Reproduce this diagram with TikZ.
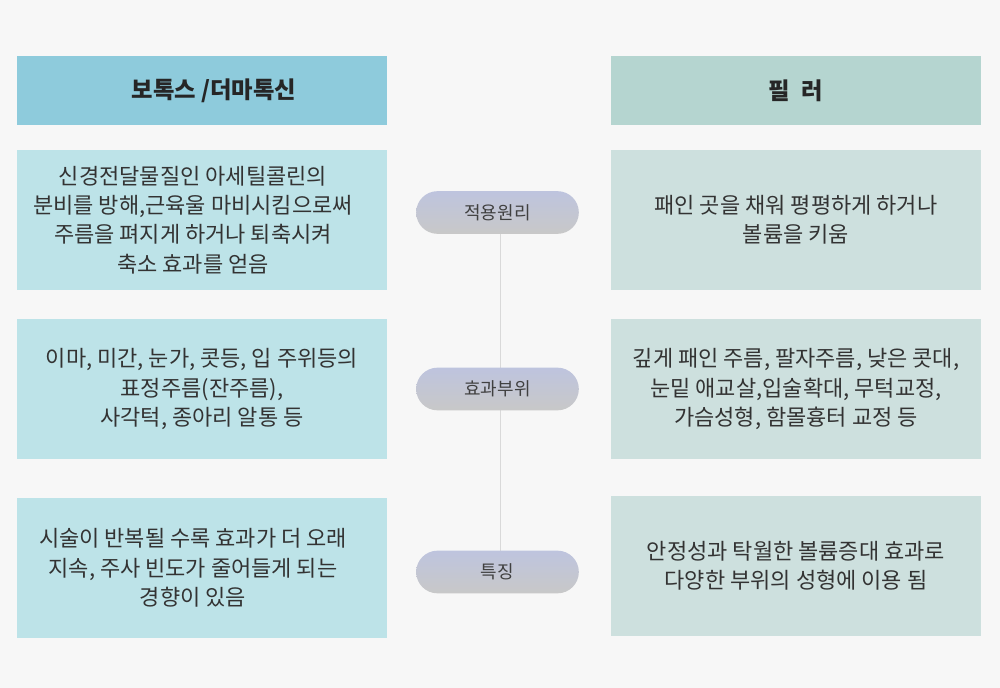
\documentclass[tikz,border=0pt]{standalone}
\usepackage{fontspec}
\setmainfont{Noto Sans CJK KR}
\begin{document}
\begin{tikzpicture}[x=0.75pt,y=-0.75pt,
  hdl/.style={fill=hl,draw=none,minimum width=277.5pt,minimum height=51.75pt,inner sep=0pt,font=\fontsize{17.5}{20}\selectfont\bfseries,text=black!85},
  hdr/.style={hdl,fill=hr},
  boxl/.style={fill=bl,draw=none,minimum width=277.5pt,minimum height=105pt,inner sep=0pt,align=center,font=\fontsize{16.5}{22}\selectfont,text=black!80},
  boxr/.style={boxl,fill=br},
  txt/.style={inner sep=0pt,align=center,font=\fontsize{16.5}{22}\selectfont,text=black!80},
  pill/.style={rounded corners=16pt,draw=none,top color=pt,bottom color=pb,minimum width=122pt,minimum height=32pt,inner sep=0pt,font=\fontsize{13.5}{15}\selectfont,text=black!75}]
\definecolor{bg}{HTML}{F7F7F7}
\definecolor{hl}{HTML}{8ECBDC}
\definecolor{hr}{HTML}{B5D5D0}
\definecolor{bl}{HTML}{BDE3E8}
\definecolor{br}{HTML}{CDE0DE}
\definecolor{pt}{HTML}{BEC4DE}
\definecolor{pb}{HTML}{C8C8C8}
\fill[bg] (0,0) rectangle (1000,688);
\node[hdl] (h1) at (202,90.5) {};
\node[inner sep=0pt,font=\fontsize{17.5}{20}\selectfont\bfseries,text=black!85] (h1t) at (214,90.5) {보톡스 /더마톡신};
\node[hdr] (h2) at (796,90.5) {필\enspace 러};
\node[boxl] (l1) at (202,220) {};
\node[txt] (l1t) at (193,220) {신경전달물질인 아세틸콜린의\\분비를 방해,근육울 마비시킴으로써\\주름을 펴지게 하거나 퇴축시켜\\축소 효과를 얻음};
\node[boxl] (l2) at (202,389) {이마, 미간, 눈가, 콧등, 입 주위등의\\표정주름(잔주름),\\사각턱, 종아리 알통 등};
\node[boxl] (l3) at (202,568) {};
\node[txt] (l3t) at (193,568) {시술이 반복될 수록 효과가 더 오래\\지속, 주사 빈도가 줄어들게 되는\\경향이 있음};
\node[boxr] (r1) at (796,220) {패인 곳을 채워 평평하게 하거나\\볼륨을 키움};
\node[boxr] (r2) at (796,389) {깊게 패인 주름, 팔자주름, 낮은 콧대,\\눈밑 애교살,입술확대, 무턱교정,\\가슴성형, 함몰흉터 교정 등};
\node[boxr] (r3) at (796,566) {안정성과 탁월한 볼륨증대 효과로\\다양한 부위의 성형에 이용 됨};
\draw[black!15,line width=0.75pt] (500,233) -- (500,551);
\node[pill] (p1) at (497.5,212.5) {적용원리};
\node[pill] (p2) at (497.5,389) {효과부위};
\node[pill] (p3) at (497.5,572) {특징};
\end{tikzpicture}
\end{document}
